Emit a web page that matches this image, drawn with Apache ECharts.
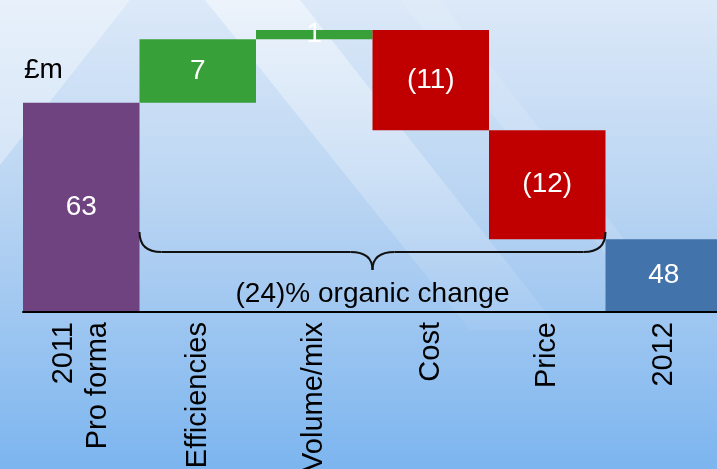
<!DOCTYPE html>
<html>
<head>
<meta charset="utf-8">
<script src="https://cdn.jsdelivr.net/npm/echarts@6/dist/echarts.min.js"></script>
<style>
  html, body { margin: 0; padding: 0; }
  #chart { width: 717px; height: 469px; }
</style>
</head>
<body>
<div id="chart"></div>
<script>
// Bridge categories and the signed movement at each step (£m)
const categories = ['2011\nPro forma', 'Efficiencies', 'Volume/mix', 'Cost', 'Price', '2012'];
const values = [63, 7, 1, -11, -12, 48];
const isTotal = [true, false, false, false, false, true];
const unitLabel = '£m';
const bracketLabel = '(24)% organic change';

const FONT = '"Liberation Sans", Arial, sans-serif';
const palette = { opening: '#6f4280', closing: '#4273ab', up: '#38a038', down: '#c00000' };

// Build an invisible base and a visible step for each bar of the bridge
let running = 0;
const baseData = [];
const stepData = [];
values.forEach((v, i) => {
  if (isTotal[i]) {
    running = v;
    baseData.push(0);
    stepData.push({ value: v, itemStyle: { color: i === 0 ? palette.opening : palette.closing } });
  } else {
    const next = running + v;
    baseData.push(Math.min(running, next));
    stepData.push({ value: Math.abs(v), itemStyle: { color: v >= 0 ? palette.up : palette.down } });
    running = next;
  }
});

const fmt = v => (v < 0 ? '(' + (-v) + ')' : String(v));

const chart = echarts.init(document.getElementById('chart'), null, { renderer: 'canvas' });

chart.setOption({
  animation: false,
  backgroundColor: {
    type: 'linear', x: 0, y: 0, x2: 0, y2: 1,
    colorStops: [
      { offset: 0, color: '#dce9f8' },
      { offset: 0.45, color: '#b7d3f2' },
      { offset: 1, color: '#7cb5ef' }
    ]
  },
  grid: { left: 23, width: 699, top: 21, bottom: 157, containLabel: false, outerBoundsMode: 'none' },
  xAxis: {
    type: 'category',
    data: categories,
    z: 5,
    axisLine: { lineStyle: { color: '#000', width: 2 } },
    axisTick: { show: false },
    axisLabel: {
      interval: 0,
      rotate: 90,
      margin: 10,
      color: '#000',
      fontSize: 29,
      lineHeight: 34,
      fontFamily: FONT
    }
  },
  yAxis: {
    type: 'value',
    min: 40,
    max: 72,
    show: false,
    splitLine: { show: false }
  },
  series: [
    {
      name: 'base',
      type: 'bar',
      stack: 'bridge',
      silent: true,
      barCategoryGap: '0%',
      itemStyle: { color: 'rgba(0,0,0,0)' },
      data: baseData
    },
    {
      name: 'step',
      type: 'bar',
      stack: 'bridge',
      barCategoryGap: '0%',
      clip: true,
      label: {
        show: true,
        position: 'inside',
        color: '#fff',
        fontSize: 28,
        fontFamily: FONT,
        formatter: p => fmt(values[p.dataIndex])
      },
      data: stepData
    }
  ]
});

// Decorations placed from the chart's own coordinate system
const c0 = chart.convertToPixel({ xAxisIndex: 0 }, 0);
const c1 = chart.convertToPixel({ xAxisIndex: 0 }, 1);
const band = c1 - c0;
const left = c1 - band / 2;
const right = chart.convertToPixel({ xAxisIndex: 0 }, 4) + band / 2;
const mid = (left + right) / 2;
const base = chart.convertToPixel({ yAxisIndex: 0 }, 40);

const yTop = base - 80, yMid = base - 60, yTip = base - 42, r = 22;
const braceStyle = { fill: null, stroke: '#111', lineWidth: 2 };
const curve = (x1, y1, cx, cy, x2, y2) => ({
  type: 'bezierCurve', z: 10, silent: true,
  shape: { x1, y1, cpx1: cx, cpy1: cy, x2, y2 },
  style: braceStyle
});
const seg = (x1, y1, x2, y2) => ({
  type: 'line', z: 10, silent: true,
  shape: { x1, y1, x2, y2 },
  style: braceStyle
});

chart.setOption({
  graphic: [
    // soft light beams in the backdrop
    { type: 'polygon', z: -1, silent: true,
      shape: { points: [[0, 0], [130, 0], [0, 165]] },
      style: { fill: 'rgba(255,255,255,0.35)' } },
    { type: 'polygon', z: -1, silent: true,
      shape: { points: [[205, 0], [300, 0], [560, 330], [470, 330]] },
      style: { fill: new echarts.graphic.LinearGradient(0, 0, 0, 1, [
        { offset: 0, color: 'rgba(255,255,255,0.45)' },
        { offset: 1, color: 'rgba(255,255,255,0.05)' }
      ]) } },
    { type: 'polygon', z: -1, silent: true,
      shape: { points: [[400, 0], [440, 0], [640, 260], [610, 260]] },
      style: { fill: 'rgba(255,255,255,0.12)' } },
    // unit caption
    { type: 'text', x: 24, y: 56,
      style: { text: unitLabel, fontSize: 28, fontFamily: FONT, fill: '#000' } },
    // bracket over the organic movements
    curve(left, yTop, left, yMid, left + r, yMid),
    seg(left + r, yMid, mid - r, yMid),
    curve(mid - r, yMid, mid, yMid, mid, yTip),
    curve(mid, yTip, mid, yMid, mid + r, yMid),
    seg(mid + r, yMid, right - r, yMid),
    curve(right - r, yMid, right, yMid, right, yTop),
    { type: 'text', z: 10, x: mid, y: base - 18,
      style: { text: bracketLabel, fontSize: 28, fontFamily: FONT, fill: '#000',
               align: 'center', verticalAlign: 'middle' } }
  ]
});
</script>
</body>
</html>
